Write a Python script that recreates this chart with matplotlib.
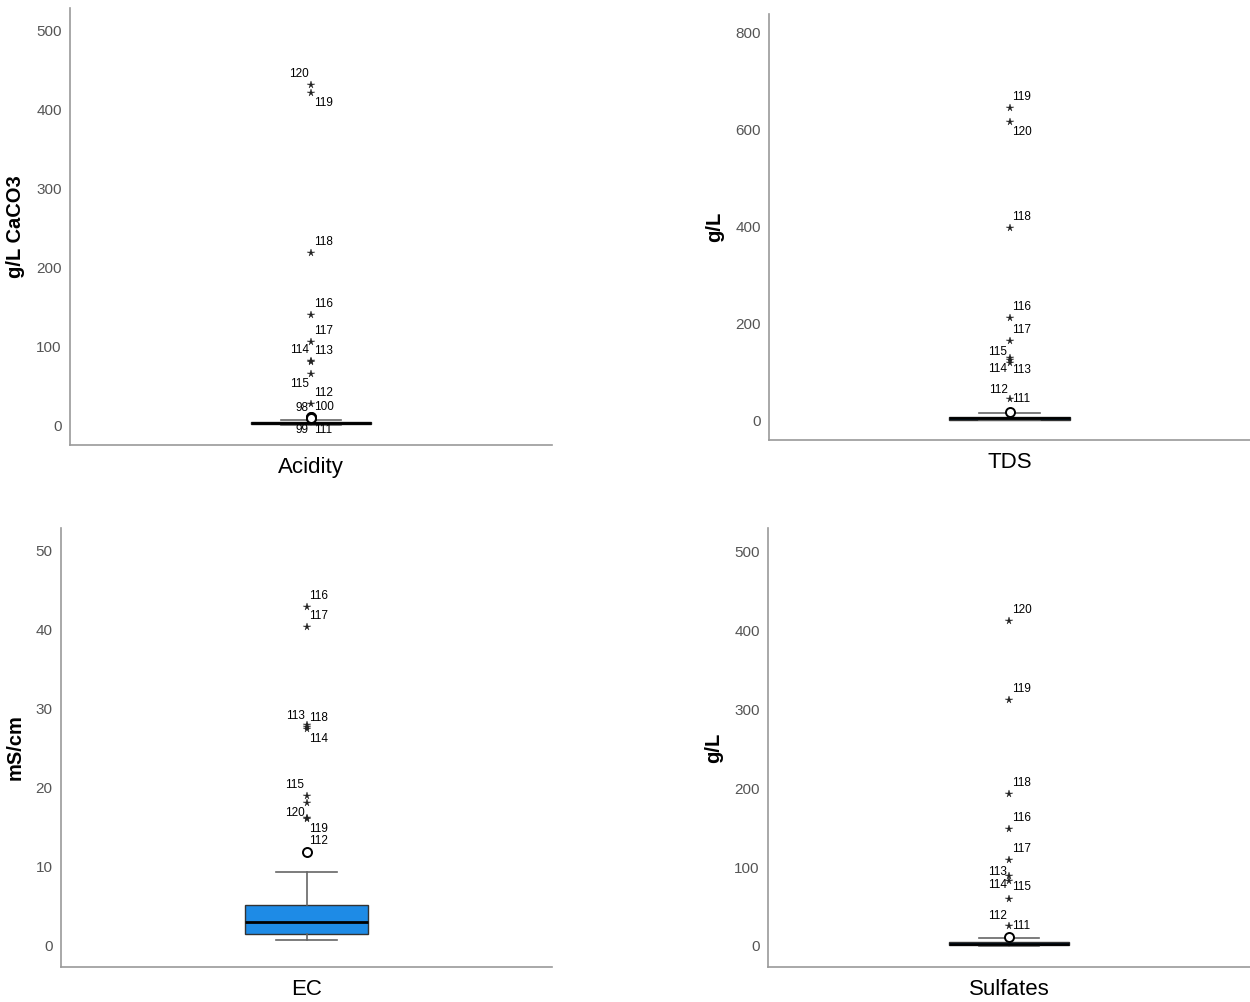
import matplotlib.pyplot as plt

# ---------------------------
# Dane
# ---------------------------
names = ["Acidity", "TDS", "EC", "Sulfates"]
units = ["g/L CaCO3", "g/L", "mS/cm", "g/L"]

q1s = [1.5, 3.0, 1.5, 1.5]
meds = [2.5, 6.0, 3.0, 3.0]
q3s = [4.0, 9.0, 5.1, 5.0]
whislos = [0.3, 1.0, 0.7, 0.3]
whishis = [6.5, 17.0, 9.35, 10.0]

ylims = [(-25, 529), (-39, 839), (-2.7, 52.9), (-26.6, 530)]
yticks = [[0, 100, 200, 300, 400, 500], [0, 200, 400, 600, 800],
          [0, 10, 20, 30, 40, 50], [0, 100, 200, 300, 400, 500]]

# wartości odstające: etykieta, wartość, typ (* = skrajna, o = odstająca)
acid_ids = ["120", "119", "118", "116", "117", "114", "113", "115", "112", "98", "100", "99", "111"]
acid_vals = [431, 421, 218, 140, 105, 81, 80, 65, 27, 10, 10, 9, 9]
acid_kind = ["*"] * 9 + ["o"] * 4

tds_ids = ["119", "120", "118", "116", "117", "115", "114", "113", "111", "112"]
tds_vals = [645, 617, 397, 212, 164, 130, 120, 125, 45, 19]
tds_kind = ["*"] * 9 + ["o"]

ec_ids = ["116", "117", "113", "118", "114", "115", "", "120", "119", "112"]
ec_vals = [42.9, 40.4, 27.9, 27.7, 27.5, 18.9, 18.1, 16.2, 16.1, 11.8]
ec_kind = ["*"] * 9 + ["o"]

sulf_ids = ["120", "119", "118", "116", "117", "113", "114", "115", "111", "112"]
sulf_vals = [412, 312, 193, 148, 109, 89, 82, 60, 25, 11]
sulf_kind = ["*"] * 9 + ["o"]

ids = [acid_ids, tds_ids, ec_ids, sulf_ids]
vals = [acid_vals, tds_vals, ec_vals, sulf_vals]
kinds = [acid_kind, tds_kind, ec_kind, sulf_kind]

# przesunięcia etykiet (piksele) i wyrównanie
R_UP, R_DN, L_UP, L_DN = (3, 11, "left"), (3, -10, "left"), (-2, 11, "right"), (-2, -10, "right")
acid_off = [L_UP, R_DN, R_UP, R_UP, R_UP, L_UP, R_UP, L_DN, R_UP, (-2, 9, "right"), (3, 10, "left"),
            (-2, -12, "right"), (3, -12, "left")]
tds_off = [R_UP, R_DN, R_UP, R_UP, R_UP, (-2, 6, "right"), (-2, -6, "right"), R_DN, (3, 0, "left"),
           (-2, 22, "right")]
ec_off = [R_UP, R_UP, (-2, 9, "right"), (3, 9, "left"), R_DN, L_UP, R_UP, (-2, 5, "right"),
          R_DN, R_UP]
sulf_off = [R_UP, R_UP, R_UP, R_UP, R_UP, (-2, 4, "right"), (-2, -4, "right"), (3, 12, "left"),
            (3, 0, "left"), (-2, 21, "right")]
offsets = [acid_off, tds_off, ec_off, sulf_off]

# pozycje osi [left, bottom, width, height]
rects = [[0.056, 0.556, 0.3856, 0.436],
         [0.6152, 0.561, 0.3848, 0.425],
         [0.0488, 0.035, 0.3928, 0.438],
         [0.6144, 0.035, 0.3856, 0.438]]

BOX_COLOR = "#1E8BE6"
SPINE = "#9a9a9a"

plt.rcParams['font.family'] = ['Liberation Sans', 'DejaVu Sans']

fig = plt.figure(figsize=(12.5, 10.02), dpi=100)

for i in range(4):
    ax = fig.add_axes(rects[i])
    stats = [dict(med=meds[i], q1=q1s[i], q3=q3s[i], whislo=whislos[i],
                  whishi=whishis[i], fliers=[])]
    ax.bxp(stats, positions=[1], widths=0.5, showfliers=False, patch_artist=True,
           boxprops=dict(facecolor=BOX_COLOR, edgecolor="#333333", linewidth=1),
           medianprops=dict(color="black", linewidth=2),
           whiskerprops=dict(color="#666666", linewidth=1.2),
           capprops=dict(color="#666666", linewidth=1.2))

    for lab, v, k, off in zip(ids[i], vals[i], kinds[i], offsets[i]):
        if k == "*":
            ax.plot(1, v, marker="*", color="#222222", markersize=5.5, mew=0.3, zorder=4)
        else:
            ax.plot(1, v, marker="o", mfc="white", mec="black", mew=1.4, markersize=6.5, zorder=4)
        if lab:
            ax.annotate(lab, (1, v), xytext=(off[0], off[1]), textcoords="offset pixels",
                        ha=off[2], va="center", fontsize=8.5, color="black")

    ax.set_xlim(0, 2)
    ax.set_ylim(*ylims[i])
    ax.set_yticks(yticks[i])
    ax.set_xticks([1])
    ax.set_xticklabels([names[i]], fontsize=16)
    ax.tick_params(axis="x", length=0, pad=9)
    ax.tick_params(axis="y", length=0, pad=6, labelsize=11, labelcolor="#555555")
    ax.set_ylabel(units[i], fontsize=14.5, fontweight="bold", labelpad=8)
    for s in ["top", "right"]:
        ax.spines[s].set_visible(False)
    for s in ["left", "bottom"]:
        ax.spines[s].set_color(SPINE)
        ax.spines[s].set_linewidth(1.2)

fig.savefig("out.png", dpi=100)
